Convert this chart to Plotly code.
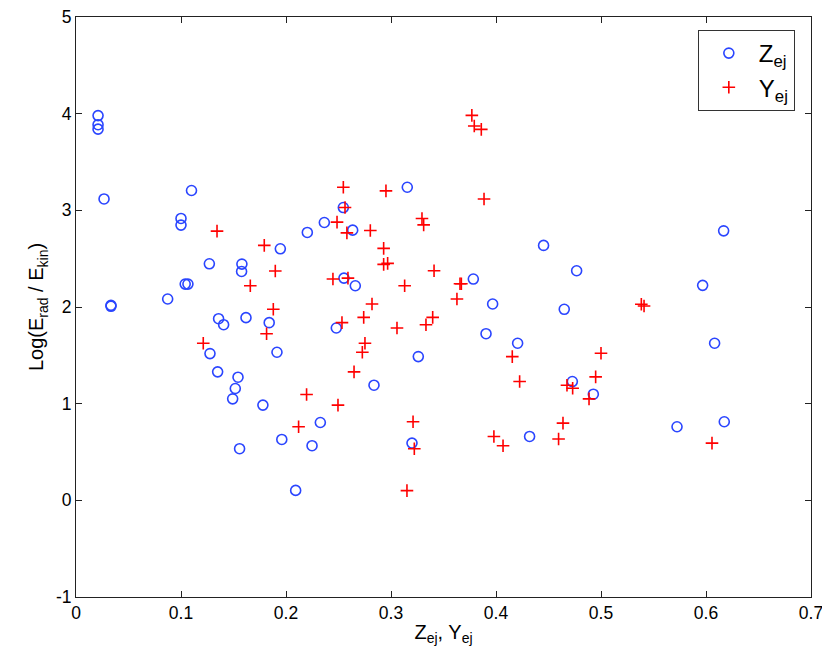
import plotly.graph_objects as go

# Z_ej series (open circles)
z_x = [0.021, 0.021, 0.021, 0.0267, 0.0333, 0.0333, 0.0873, 0.100, 0.100, 0.104,
       0.1066, 0.110, 0.127, 0.1276, 0.1349, 0.1358, 0.1406, 0.1492, 0.1517, 0.1543,
       0.1558, 0.1577, 0.158, 0.1619, 0.178, 0.184, 0.1914, 0.1946, 0.196, 0.2092,
       0.2203, 0.2248, 0.2327, 0.2365, 0.2479, 0.2546, 0.2552, 0.2635, 0.266, 0.2838,
       0.3155, 0.320, 0.326, 0.3784, 0.3905, 0.3968, 0.4206, 0.432, 0.4453, 0.465,
       0.4727, 0.4768, 0.4927, 0.5724, 0.5968, 0.6082, 0.6168, 0.6174]
z_y = [3.98, 3.886, 3.84, 3.118, 2.017, 2.007, 2.083, 2.916, 2.847, 2.237,
       2.237, 3.205, 2.447, 1.518, 1.329, 1.879, 1.817, 1.050, 1.157, 1.274,
       0.534, 2.368, 2.444, 1.890, 0.985, 1.838, 1.532, 2.602, 0.630, 0.103,
       2.771, 0.565, 0.805, 2.874, 1.783, 3.029, 2.299, 2.795, 2.220, 1.191,
       3.239, 0.592, 1.487, 2.289, 1.724, 2.031, 1.625, 0.661, 2.637, 1.976,
       1.229, 2.375, 1.098, 0.761, 2.224, 1.625, 2.788, 0.813]

# Y_ej series (plus markers)
y_x = [0.1212, 0.1343, 0.166, 0.1793, 0.1815, 0.1879, 0.1898, 0.212, 0.2196, 0.2447,
       0.2486, 0.2495, 0.2533, 0.2546, 0.2562, 0.258, 0.259, 0.2648, 0.2727, 0.2752,
       0.274, 0.2803, 0.2819, 0.293, 0.293, 0.2968, 0.2952, 0.3057, 0.313, 0.3152,
       0.321, 0.3222, 0.3295, 0.3311, 0.3333, 0.3397, 0.341, 0.3628, 0.3657, 0.367,
       0.377, 0.3793, 0.386, 0.3886, 0.398, 0.4067, 0.4155, 0.4225, 0.4596, 0.4638,
       0.4676, 0.473, 0.4886, 0.4949, 0.500, 0.5384, 0.541, 0.6057]
y_y = [1.625, 2.785, 2.220, 2.637, 1.724, 1.976, 2.372, 0.761, 1.095, 2.289,
       2.878, 0.985, 1.838, 3.239, 3.029, 2.767, 2.299, 1.329, 1.532, 1.625,
       1.893, 2.792, 2.031, 2.606, 2.441, 2.451, 3.201, 1.783, 2.220, 0.100,
       0.813, 0.534, 2.916, 2.850, 1.817, 1.893, 2.375, 2.083, 2.241, 2.241,
       3.982, 3.872, 3.838, 3.118, 0.661, 0.565, 1.487, 1.229, 0.634, 0.799,
       1.191, 1.160, 1.050, 1.277, 1.522, 2.028, 2.010, 0.592]

x_ticks = [0, 0.1, 0.2, 0.3, 0.4, 0.5, 0.6, 0.7]
y_ticks = [-1, 0, 1, 2, 3, 4, 5]

FONT = "Liberation Sans, Arial, sans-serif"

fig = go.Figure()
fig.add_trace(go.Scatter(
    x=z_x, y=z_y, mode="markers", name="Z<sub>ej</sub>",
    marker=dict(symbol="circle-open", size=10, color="#2a45ff",
                line=dict(width=1.6, color="#2a45ff")),
))
fig.add_trace(go.Scatter(
    x=y_x, y=y_y, mode="markers", name="Y<sub>ej</sub>",
    marker=dict(symbol="cross-thin-open", size=9, color="#ff0000",
                line=dict(width=1.6, color="#ff0000")),
))

axis_common = dict(
    showline=True, linecolor="#222222", linewidth=1, mirror="ticks",
    ticks="inside", ticklen=6, tickcolor="#222222", tickwidth=1,
    showgrid=False, zeroline=False, automargin=False,
    ticklabeloverflow="allow",
    tickfont=dict(family=FONT, size=17.5, color="black"),
)

fig.update_layout(
    width=822, height=656,
    margin=dict(l=68, r=19, t=9, b=67, autoexpand=False),
    paper_bgcolor="white", plot_bgcolor="white",
    font=dict(family=FONT, color="black"),
    xaxis=dict(range=[x_ticks[0], x_ticks[-1]], tickvals=x_ticks,
               ticktext=[str(v) for v in x_ticks],
               title=dict(text="Z<sub>ej</sub>, Y<sub>ej</sub>",
                          font=dict(size=20), standoff=2),
               **axis_common),
    yaxis=dict(range=[y_ticks[0], y_ticks[-1]], tickvals=y_ticks,
               ticktext=[str(v) for v in y_ticks],
               title=dict(text="Log(E<sub>rad</sub> / E<sub>kin</sub>)",
                          font=dict(size=20), standoff=6),
               **axis_common),
    legend=dict(x=0.978, y=0.9776, xanchor="right", yanchor="top",
                bgcolor="white", bordercolor="#333", borderwidth=1,
                font=dict(size=24), itemwidth=50, tracegroupgap=0),
    showlegend=True,
)

fig.write_html("out.html", config={"staticPlot": True, "displayModeBar": False})
